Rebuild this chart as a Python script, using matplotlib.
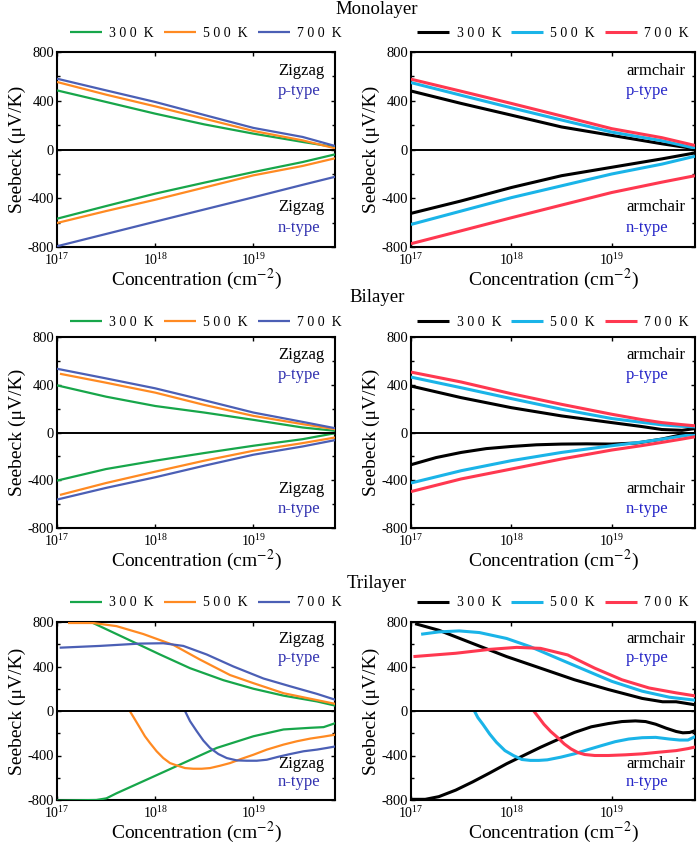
import matplotlib
matplotlib.use('Agg')
import matplotlib.pyplot as plt
from matplotlib.ticker import MultipleLocator, LogLocator, NullLocator

plt.rcParams['font.family'] = ['Liberation Serif', 'DejaVu Serif']
plt.rcParams['mathtext.fontset'] = 'stix'
plt.rcParams['axes.unicode_minus'] = False

# ---------------- data (x values are log10 of concentration, cm^-2) ----------------
legend_labels = ['3 0 0  K', '5 0 0  K', '7 0 0  K']
zz_colors = ['#17a64a', '#ff8a22', '#4b5fb5']
ac_colors = ['#000000', '#1ab4e8', '#ff3850']
row_titles = ['Monolayer', 'Bilayer', 'Trilayer']

grid7 = [17.0, 17.5, 18.0, 18.5, 19.0, 19.5, 19.83]
grid7b = [17.03, 17.5, 18.0, 18.5, 19.0, 19.5, 19.83]
grid9 = [17.0, 17.5, 18.0, 18.5, 19.0, 19.3, 19.5, 19.7, 19.83]
grid13 = [17.0, 17.25, 17.5, 17.75, 18.0, 18.25, 18.5, 18.75, 19.0, 19.25, 19.5, 19.7, 19.83]

# Monolayer zigzag
mono_zz_p300 = [485, 390, 294, 206, 130, 62, 20]
mono_zz_p500 = [554, 450, 354, 253, 152, 75, 10]
mono_zz_p700 = [581, 485, 390, 283, 177, 103, 29]
mono_zz_n300 = [-568, -464, -362, -272, -185, -103, -40]
mono_zz_n500 = [-603, -505, -412, -312, -212, -135, -72]
mono_zz_n700 = [-794, -693, -592, -492, -392, -290, -224]
# Monolayer armchair
mono_ac_p300 = [480, 378, 282, 185, 116, 47, 6]
mono_ac_p500 = [549, 445, 342, 242, 143, 72, 11]
mono_ac_p700 = [577, 478, 378, 275, 171, 97, 33]
mono_ac_n300 = [-524, -422, -312, -215, -146, -77, -28]
mono_ac_n500 = [-615, -505, -395, -298, -201, -120, -55]
mono_ac_n700 = [-773, -667, -560, -456, -353, -268, -215]
# Bilayer zigzag
bi_zz_p300 = [395, 300, 222, 167, 106, 42, 14]
bi_zz_p500 = [492, 417, 334, 231, 139, 70, 28]
bi_zz_p700 = [534, 453, 370, 270, 167, 89, 36]
bi_zz_n300 = [-403, -306, -236, -172, -111, -56, -6]
bi_zz_n500 = [-523, -423, -328, -236, -153, -89, -42]
bi_zz_n700 = [-562, -464, -375, -278, -186, -117, -64]
# Bilayer armchair
bi_ac_p300 = [389, 292, 208, 139, 83, 50, 25, 18, 33]
bi_ac_p500 = [464, 375, 284, 195, 117, 85, 64, 52, 47]
bi_ac_p700 = [506, 423, 325, 236, 153, 108, 83, 66, 56]
bi_ac_n300 = [-270, -210, -167, -135, -117, -103, -97, -95, -97, -88, -55, -18, -8]
bi_ac_n500 = [-423, -320, -236, -167, -111, -80, -56, -30, -14]
bi_ac_n700 = [-495, -389, -306, -222, -147, -110, -83, -55, -36]

# Trilayer zigzag
tri_zz_p300_x = [17.26, 17.367, 17.605, 17.827, 18.048, 18.354, 18.694, 19.0, 19.306, 19.646, 19.844]
tri_zz_p300 = [805, 791, 692, 600, 508, 385, 277, 200, 138, 86, 46]
tri_zz_p500_x = [17.112, 17.367, 17.605, 17.878, 18.184, 18.456, 18.762, 19.0, 19.306, 19.646, 19.844]
tri_zz_p500 = [791, 791, 763, 692, 594, 462, 323, 250, 160, 98, 62]
tri_zz_p700_x = [17.027, 17.435, 17.844, 18.082, 18.286, 18.524, 18.796, 19.102, 19.374, 19.646, 19.844]
tri_zz_p700 = [569, 585, 606, 609, 585, 508, 400, 292, 222, 154, 98]
tri_zz_n300_x = [17.0, 17.401, 17.503, 17.605, 17.946, 18.286, 18.626, 19.0, 19.306, 19.578, 19.714, 19.844]
tri_zz_n300 = [-805, -800, -785, -740, -604, -468, -332, -227, -166, -151, -145, -106]
tri_zz_n500_x = [17.741, 17.793, 17.844, 17.895, 17.946, 18.014, 18.082, 18.150, 18.218, 18.303,
                 18.388, 18.473, 18.558, 18.660, 18.762, 18.881, 19.0, 19.136, 19.306, 19.442,
                 19.578, 19.714, 19.844]
tri_zz_n500 = [0, -76, -151, -227, -287, -362, -423, -468, -489, -513,
               -519, -519, -513, -492, -468, -429, -393, -347, -302, -272,
               -248, -230, -211]
tri_zz_n700_x = [18.303, 18.354, 18.422, 18.490, 18.558, 18.643, 18.728, 18.830, 18.932, 19.034,
                 19.136, 19.255, 19.374, 19.510, 19.646, 19.748, 19.844]
tri_zz_n700 = [0, -91, -181, -266, -332, -387, -423, -444, -447, -447,
               -438, -411, -387, -362, -347, -332, -317]

# Trilayer armchair
tri_ac_p300_x = [17.041, 17.277, 17.615, 17.953, 18.291, 18.628, 18.966, 19.304, 19.507, 19.642, 19.851]
tri_ac_p300 = [785, 726, 607, 489, 385, 281, 193, 113, 83, 83, 53]
tri_ac_p500_x = [17.101, 17.277, 17.480, 17.682, 17.953, 18.189, 18.459, 18.730, 19.0, 19.304, 19.574, 19.851]
tri_ac_p500 = [690, 711, 720, 705, 652, 578, 474, 370, 267, 178, 124, 95]
tri_ac_p700_x = [17.024, 17.446, 17.784, 18.054, 18.291, 18.561, 18.831, 19.101, 19.372, 19.642, 19.851]
tri_ac_p700 = [489, 519, 554, 572, 563, 504, 385, 281, 207, 163, 133]
tri_ac_n300_x = [17.0, 17.142, 17.277, 17.446, 17.615, 17.784, 17.953, 18.122, 18.291, 18.459,
                 18.628, 18.797, 18.966, 19.101, 19.236, 19.338, 19.439, 19.541, 19.642, 19.709,
                 19.777, 19.828, 19.851]
tri_ac_n300 = [-794, -794, -770, -711, -637, -557, -474, -400, -326, -258,
               -193, -142, -113, -95, -89, -95, -119, -154, -184, -196,
               -193, -178, -148]
tri_ac_n500_x = [17.632, 17.666, 17.716, 17.784, 17.851, 17.936, 18.020, 18.105, 18.189, 18.274,
                 18.358, 18.493, 18.628, 18.764, 18.899, 19.034, 19.169, 19.304, 19.439, 19.574,
                 19.676, 19.760, 19.851]
tri_ac_n500 = [0, -59, -119, -207, -281, -356, -400, -436, -444, -444,
               -439, -415, -385, -347, -311, -276, -252, -240, -237, -252,
               -261, -261, -222]
tri_ac_n700_x = [18.223, 18.274, 18.324, 18.392, 18.459, 18.527, 18.595, 18.662, 18.730, 18.831,
                 18.966, 19.135, 19.304, 19.473, 19.642, 19.760, 19.851]
tri_ac_n700 = [0, -59, -119, -184, -237, -296, -341, -373, -391, -400,
               -400, -394, -385, -370, -356, -338, -320]

panels = [
    [(grid7, mono_zz_p300, grid7, mono_zz_p500, grid7, mono_zz_p700,
      grid7, mono_zz_n300, grid7, mono_zz_n500, grid7, mono_zz_n700),
     (grid7, mono_ac_p300, grid7, mono_ac_p500, grid7, mono_ac_p700,
      grid7, mono_ac_n300, grid7, mono_ac_n500, grid7, mono_ac_n700)],
    [(grid7, bi_zz_p300, grid7b, bi_zz_p500, grid7, bi_zz_p700,
      grid7, bi_zz_n300, grid7b, bi_zz_n500, grid7, bi_zz_n700),
     (grid9, bi_ac_p300, grid9, bi_ac_p500, grid9, bi_ac_p700,
      grid13, bi_ac_n300, grid9, bi_ac_n500, grid9, bi_ac_n700)],
    [(tri_zz_p300_x, tri_zz_p300, tri_zz_p500_x, tri_zz_p500, tri_zz_p700_x, tri_zz_p700,
      tri_zz_n300_x, tri_zz_n300, tri_zz_n500_x, tri_zz_n500, tri_zz_n700_x, tri_zz_n700),
     (tri_ac_p300_x, tri_ac_p300, tri_ac_p500_x, tri_ac_p500, tri_ac_p700_x, tri_ac_p700,
      tri_ac_n300_x, tri_ac_n300, tri_ac_n500_x, tri_ac_n500, tri_ac_n700_x, tri_ac_n700)],
]

# ---------------- layout ----------------
W, H = 699, 849
fig = plt.figure(figsize=(W / 100, H / 100), dpi=100)

col_x = [(57, 335), (411, 695)]
row_y = [(52, 247), (337, 528), (622, 800)]
title_y = [10, 298, 583]

for r in range(3):
    fig.text(377 / W, 1 - title_y[r] / H, row_titles[r], ha='center', va='center', fontsize=13.5)
    for c in range(2):
        x0, x1 = col_x[c]
        y0, y1 = row_y[r]
        ax = fig.add_axes([x0 / W, 1 - y1 / H, (x1 - x0) / W, (y1 - y0) / H])
        data = panels[r][c]
        colors = zz_colors if c == 0 else ac_colors
        lw = 1.6 if c == 0 else 2.2
        handles = []
        for k in range(6):
            xs = [10 ** v for v in data[2 * k]]
            ys = data[2 * k + 1]
            ln, = ax.plot(xs, ys, color=colors[k % 3], lw=lw, solid_capstyle='butt',
                          solid_joinstyle='round', zorder=3)
            if k < 3:
                handles.append(ln)
        ax.axhline(0, color='black', lw=1.4, zorder=4)
        ax.set_xscale('log')
        ax.set_xlim(1e17, 10 ** 19.83)
        ax.set_ylim(-800, 800)
        ax.yaxis.set_major_locator(MultipleLocator(400))
        ax.yaxis.set_minor_locator(MultipleLocator(200))
        ax.xaxis.set_major_locator(LogLocator(base=10, numticks=10))
        ax.xaxis.set_minor_locator(NullLocator())
        ax.tick_params(which='both', direction='in', top=True, right=True, width=1.0)
        ax.tick_params(which='major', length=3)
        ax.tick_params(which='minor', length=2)
        ax.tick_params(axis='x', labelsize=10, pad=4)
        ax.tick_params(axis='y', labelsize=10.5, pad=2)
        for s in ax.spines.values():
            s.set_linewidth(1.5)
        ax.set_ylabel('Seebeck (\u03bcV/K)', fontsize=14, labelpad=1)
        ax.set_xlabel('Concentration (cm$^{-2}$)', fontsize=14, labelpad=-1)

        name = 'Zigzag' if c == 0 else 'armchair'
        tx = 0.795 if c == 0 else 0.757
        tcol = '#3232b0' if c == 0 else '#2626c8'
        ax.text(tx, 0.905, name, transform=ax.transAxes, fontsize=12, va='center', ha='left')
        ax.text(tx, 0.80, 'p-type', transform=ax.transAxes, fontsize=12, va='center', ha='left', color=tcol)
        ax.text(tx, 0.205, name, transform=ax.transAxes, fontsize=12, va='center', ha='left')
        ax.text(tx, 0.10, 'n-type', transform=ax.transAxes, fontsize=12, va='center', ha='left', color=tcol)

        ly = 1 + (19 if r != 1 else 15) / ((y1 - y0))
        lx = 0.535 if c == 0 else 0.50
        ax.legend(handles, legend_labels, ncol=3, loc='center', bbox_to_anchor=(lx, ly),
                  frameon=False, fontsize=10, handlelength=2.3, handletextpad=0.55,
                  columnspacing=0.7, borderpad=0, borderaxespad=0)

fig.savefig('out.png', dpi=100)
